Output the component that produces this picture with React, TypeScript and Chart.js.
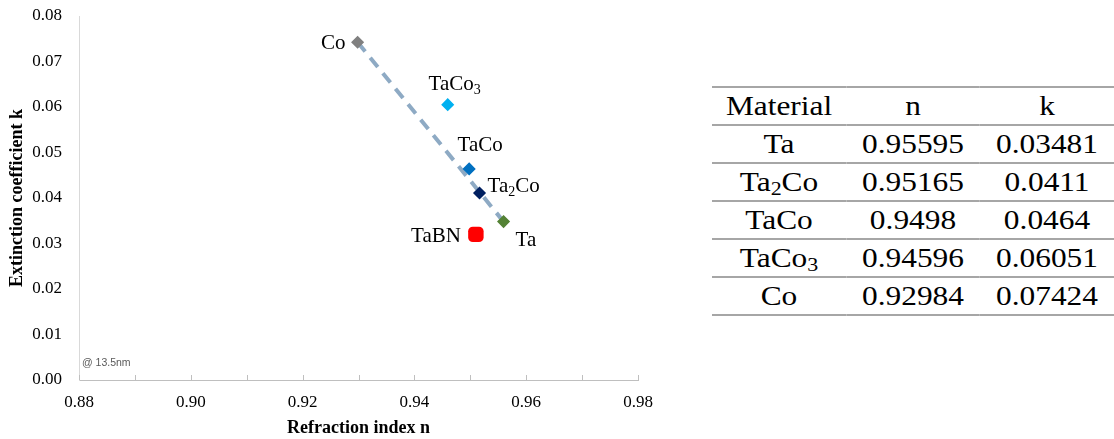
import React, { useEffect, useRef } from 'react';
import { Chart, registerables } from 'chart.js';

Chart.register(...registerables);

// ---- data ----
const materials = ['Ta', 'Ta2Co', 'TaCo', 'TaCo3', 'Co'];
const nValues = [0.95595, 0.95165, 0.9498, 0.94596, 0.92984];
const kValues = [0.03481, 0.0411, 0.0464, 0.06051, 0.07424];
const refLabel = ['TaBN'];
const refN = [0.951];
const refK = [0.032];
const xRange = [0.88, 0.98];
const yRange = [0.0, 0.08];
const xTickCount = 11; // every 0.01, labels every 0.02
const yTickCount = 9; // every 0.01
const tableHeader = ['Material', 'n', 'k'];
const noteText = '@ 13.5nm';

// ---- styles ----
const pointColors: Record<string, string> = {
  Ta: '#548235',
  Ta2Co: '#002060',
  TaCo: '#0070c0',
  TaCo3: '#00b0f0',
  Co: '#808080',
  TaBN: '#ff0000',
};
const labelPlace: Record<string, { dx: number; dy: number; align: CanvasTextAlign }> = {
  Co: { dx: -12, dy: 0, align: 'right' },
  TaCo3: { dx: 7, dy: -22, align: 'center' },
  TaCo: { dx: 11, dy: -25, align: 'center' },
  Ta2Co: { dx: 8, dy: -8, align: 'left' },
  Ta: { dx: 12, dy: 17, align: 'left' },
  TaBN: { dx: -15, dy: 1, align: 'right' },
};
const SERIF = '"Liberation Serif", "Times New Roman", serif';

function splitFormula(s: string) {
  const parts: { t: string; sub: boolean }[] = [];
  const re = /(\d+)|(\D+)/g;
  let m: RegExpExecArray | null;
  while ((m = re.exec(s))) {
    parts.push({ t: m[0], sub: !!m[1] });
  }
  return parts;
}

const annotatePlugin = {
  id: 'annotate',
  afterDraw(chart: any) {
    const ctx: CanvasRenderingContext2D = chart.ctx;
    const x = chart.scales.x;
    const area = chart.chartArea;
    ctx.save();
    // inward tick marks on x axis
    ctx.strokeStyle = '#bfbfbf';
    ctx.lineWidth = 1;
    x.ticks.forEach((t: any) => {
      const px = Math.round(x.getPixelForValue(t.value)) + 0.5;
      ctx.beginPath();
      ctx.moveTo(px, area.bottom);
      ctx.lineTo(px, area.bottom - 5);
      ctx.stroke();
    });
    // note
    ctx.fillStyle = '#595959';
    ctx.font = '10.5px "Liberation Sans", Arial, sans-serif';
    ctx.textAlign = 'left';
    ctx.textBaseline = 'middle';
    ctx.fillText(noteText, area.left + 3, area.bottom - 17);

    // point labels
    const drawLabel = (name: string, px: number, py: number) => {
      const place = labelPlace[name] || { dx: 8, dy: 0, align: 'left' };
      const parts = splitFormula(name);
      const mainFont = `21px ${SERIF}`;
      const subFont = `14px ${SERIF}`;
      let total = 0;
      parts.forEach((p) => {
        ctx.font = p.sub ? subFont : mainFont;
        total += ctx.measureText(p.t).width;
      });
      let sx = px + place.dx;
      if (place.align === 'right') sx -= total;
      else if (place.align === 'center') sx -= total / 2;
      const baseY = py + place.dy + 7;
      ctx.fillStyle = '#000000';
      ctx.textAlign = 'left';
      ctx.textBaseline = 'alphabetic';
      parts.forEach((p) => {
        ctx.font = p.sub ? subFont : mainFont;
        ctx.fillText(p.t, sx, p.sub ? baseY + 4 : baseY);
        sx += ctx.measureText(p.t).width;
      });
    };
    const meta0 = chart.getDatasetMeta(1);
    meta0.data.forEach((pt: any, i: number) => drawLabel(materials[i], pt.x, pt.y));
    const meta1 = chart.getDatasetMeta(2);
    meta1.data.forEach((pt: any, i: number) => drawLabel(refLabel[i], pt.x, pt.y));
    ctx.restore();
  },
};

function ChartPanel() {
  const ref = useRef<HTMLCanvasElement | null>(null);
  useEffect(() => {
    if (!ref.current) return;
    const coIdx = materials.indexOf('Co');
    const taIdx = materials.indexOf('Ta');
    const chart = new Chart(ref.current, {
      type: 'scatter',
      data: {
        datasets: [
          {
            label: 'trend',
            data: [
              { x: nValues[coIdx], y: kValues[coIdx] },
              { x: nValues[taIdx], y: kValues[taIdx] },
            ],
            showLine: true,
            borderColor: '#8eaac4',
            borderWidth: 4,
            borderDash: [12, 8],
            pointRadius: 0,
            order: 3,
          },
          {
            label: 'materials',
            data: materials.map((_, i) => ({ x: nValues[i], y: kValues[i] })),
            pointStyle: 'rectRot',
            pointRadius: 5.5,
            pointBorderWidth: 1.5,
            backgroundColor: materials.map((m) => pointColors[m]),
            borderColor: materials.map((m) => pointColors[m]),
            order: 1,
          },
          {
            label: 'ref',
            data: refLabel.map((_, i) => ({ x: refN[i], y: refK[i] })),
            pointStyle: 'rectRounded',
            pointRadius: 9,
            pointBorderWidth: 0,
            backgroundColor: refLabel.map((m) => pointColors[m]),
            borderColor: refLabel.map((m) => pointColors[m]),
            order: 1,
          },
        ],
      },
      options: {
        responsive: false,
        animation: false,
        devicePixelRatio: 1,
        layout: { padding: { top: 16, right: 42, left: 0, bottom: 0 } },
        plugins: { legend: { display: false }, tooltip: { enabled: false } },
        scales: {
          x: {
            type: 'linear',
            min: xRange[0],
            max: xRange[1],
            afterFit: (s: any) => {
              s.height = 59;
              s.paddingLeft = 0;
              s.paddingRight = 0;
            },
            grid: { display: false, drawTicks: false },
            border: { display: true, color: '#bfbfbf', width: 1 },
            ticks: {
              count: xTickCount,
              autoSkip: false,
              maxRotation: 0,
              align: 'center',
              padding: 12,
              color: '#000000',
              font: { family: SERIF, size: 17 },
              callback: (v: any) => (Math.round(Number(v) * 100) % 2 === 0 ? Number(v).toFixed(2) : ''),
            },
            title: {
              display: true,
              text: 'Refraction index n',
              color: '#000000',
              font: { family: SERIF, size: 18, weight: 'bold' },
              padding: { top: 1, bottom: 0 },
            },
          },
          y: {
            type: 'linear',
            min: yRange[0],
            max: yRange[1],
            afterFit: (s: any) => {
              s.width = 79;
              s.paddingTop = 0;
              s.paddingBottom = 0;
            },
            grid: { display: false, drawTicks: false },
            border: { display: true, color: '#d9d9d9', width: 1 },
            ticks: {
              count: yTickCount,
              padding: 17,
              color: '#000000',
              font: { family: SERIF, size: 17 },
              callback: (v: any) => Number(v).toFixed(2),
            },
            title: {
              display: true,
              text: 'Extinction coefficient k',
              color: '#000000',
              font: { family: SERIF, size: 18, weight: 'bold' },
              padding: { top: 7, bottom: 0 },
            },
          },
        },
      },
      plugins: [annotatePlugin],
    } as any);
    return () => chart.destroy();
  }, []);
  return (
    <canvas
      ref={ref}
      width={680}
      height={439}
      style={{ position: 'absolute', left: 0, top: 0, width: 680, height: 439 }}
    />
  );
}

function Formula({ text }: { text: string }) {
  return (
    <>
      {splitFormula(text).map((p, i) =>
        p.sub ? (
          <sub key={i} style={{ fontSize: '0.7em', verticalAlign: '-0.2em', lineHeight: 0 }}>
            {p.t}
          </sub>
        ) : (
          <span key={i}>{p.t}</span>
        )
      )}
    </>
  );
}

function DataTable() {
  const scale = 1.12;
  const border = '2px solid #a6a6a6';
  const cell: React.CSSProperties = {
    borderTop: border,
    borderBottom: border,
    padding: 0,
    height: 36,
    lineHeight: '36px',
    textAlign: 'center',
    width: 402 / scale / 3,
    whiteSpace: 'nowrap',
  };
  return (
    <div
      style={{
        position: 'absolute',
        left: 712,
        top: 86,
        transform: `scaleX(${scale})`,
        transformOrigin: 'left top',
      }}
    >
      <table
        style={{
          borderCollapse: 'collapse',
          fontFamily: SERIF,
          fontSize: 28,
          color: '#000',
          width: 402 / scale,
          tableLayout: 'fixed',
        }}
      >
        <tbody>
          <tr>
            {tableHeader.map((h) => (
              <td key={h} style={cell}>
                {h}
              </td>
            ))}
          </tr>
          {materials.map((m, i) => (
            <tr key={m}>
              <td style={cell}>
                <Formula text={m} />
              </td>
              <td style={cell}>{String(nValues[i])}</td>
              <td style={cell}>{String(kValues[i])}</td>
            </tr>
          ))}
        </tbody>
      </table>
    </div>
  );
}

export default function App() {
  return (
    <div
      style={{
        position: 'absolute',
        left: 0,
        top: 0,
        width: 1114,
        height: 439,
        background: '#ffffff',
        overflow: 'hidden',
      }}
    >
      <ChartPanel />
      <DataTable />
    </div>
  );
}
